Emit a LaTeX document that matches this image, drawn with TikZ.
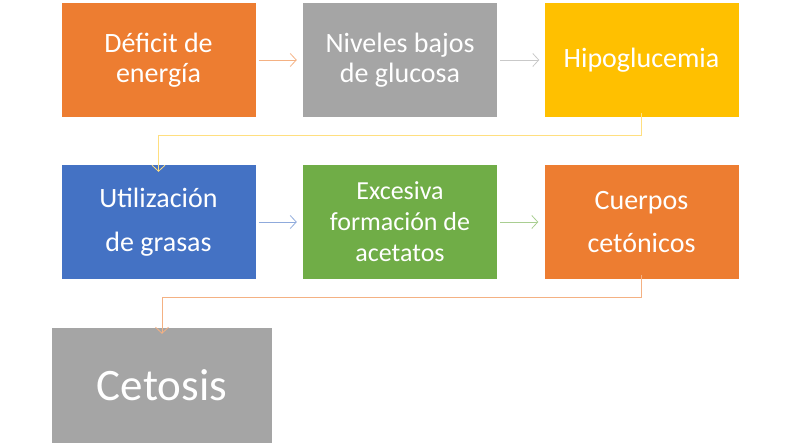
\documentclass[tikz,border=0pt]{standalone}
\usepackage{fontspec}
\setmainfont{Carlito}
\usetikzlibrary{arrows.meta}

\definecolor{naranja}{HTML}{ED7D31}
\definecolor{gris}{HTML}{A5A5A5}
\definecolor{amarillo}{HTML}{FFC000}
\definecolor{azul}{HTML}{4472C4}
\definecolor{verde}{HTML}{70AD47}

\tikzset{
  caja/.style={minimum width=194pt, minimum height=114pt, inner sep=0pt,
    text=white, align=center, font=\fontsize{28}{30}\selectfont},
  flecha/.style={-{Straight Barb[length=6pt,width=13pt]}, line width=0.8pt},
}

\begin{document}
\begin{tikzpicture}[x=1pt, y=-1pt]
  \useasboundingbox (0,0) rectangle (800,446);
  % Primera fila
  \node[caja, fill=naranja] (deficit) at (158.5,60) {D\'eficit de\\energ\'ia};
  \node[caja, fill=gris] (niveles) at (400,60) {Niveles bajos\\de glucosa};
  \node[caja, fill=amarillo] (hipo) at (641.5,60) {Hipoglucemia};
  % Segunda fila
  \node[caja, fill=azul, font=\fontsize{28}{44}\selectfont] (grasas) at (158.5,222) {Utilizaci\'on\\de grasas};
  \node[caja, fill=verde, font=\fontsize{26}{31}\selectfont] (acetatos) at (400,222) {Excesiva\\formaci\'on de\\acetatos};
  \node[caja, fill=naranja, font=\fontsize{28}{43}\selectfont] (cuerpos) at (641.5,222) {Cuerpos\\cet\'onicos};
  % Resultado final
  \node[caja, fill=gris, minimum width=220pt, minimum height=115pt, font=\fontsize{45}{50}\selectfont] (cetosis) at (162,385.5) {Cetosis};
  % Flechas horizontales
  \draw[flecha, naranja!60] ([xshift=3pt]deficit.east) -- ([xshift=-6pt]niveles.west);
  \draw[flecha, gris!60] ([xshift=3pt]niveles.east) -- ([xshift=-5pt]hipo.west);
  \draw[flecha, azul!60] ([xshift=3pt]grasas.east) -- ([xshift=-6pt]acetatos.west);
  \draw[flecha, verde!60] ([xshift=3pt]acetatos.east) -- ([xshift=-6pt]cuerpos.west);
  % Conectores en codo
  \draw[flecha, amarillo!50] ([yshift=4pt]hipo.south) -- ++(0,22) -| ([yshift=-7pt]grasas.north);
  \draw[flecha, naranja!60] ([yshift=4pt]cuerpos.south) -- ++(0,22) -| ([yshift=-6pt]cetosis.north);
\end{tikzpicture}
\end{document}
